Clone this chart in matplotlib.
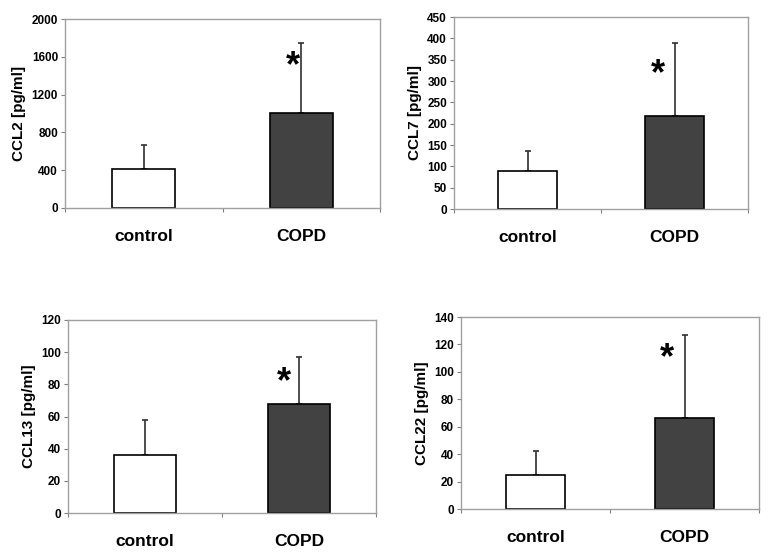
import numpy as np
import matplotlib.pyplot as plt

plt.rcParams['font.family'] = ['Liberation Sans', 'DejaVu Sans']
plt.rcParams['font.weight'] = 'bold'

groups = ['control', 'COPD']

ccl2_mean = [415, 1005]
ccl2_sd = [250, 740]
ccl7_mean = [90, 217]
ccl7_sd = [45, 173]
ccl13_mean = [36, 68]
ccl13_sd = [22, 29]
ccl22_mean = [25, 66]
ccl22_sd = [17, 61]

panels = [
    ('CCL2 [pg/ml]', ccl2_mean, ccl2_sd, 2000, 400, (0.95, 1598)),
    ('CCL7 [pg/ml]', ccl7_mean, ccl7_sd, 450, 50, (0.89, 337)),
    ('CCL13 [pg/ml]', ccl13_mean, ccl13_sd, 120, 20, (0.90, 87)),
    ('CCL22 [pg/ml]', ccl22_mean, ccl22_sd, 140, 20, (0.88, 117)),
]

# axes boxes in pixels (left, top, right, bottom)
boxes = [(65, 19, 380, 208), (454, 17, 748, 209),
         (68, 320, 376, 513), (461, 317, 759, 509)]

W, H = 774, 560
fig = plt.figure(figsize=(W / 100, H / 100), dpi=100)
fig.patch.set_facecolor('white')

for (ylab, mean, sd, ymax, step, star), (l, t, r, b) in zip(panels, boxes):
    ax = fig.add_axes([l / W, (H - b) / H, (r - l) / W, (b - t) / H])
    x = np.arange(len(groups))
    ax.bar(x, mean, width=0.4, color=['white', '#424242'],
           edgecolor='black', linewidth=1.2, zorder=2)
    ax.errorbar(x, mean, yerr=[np.zeros(len(sd)), sd], fmt='none',
                ecolor='#303030', elinewidth=1.2, capsize=2.5, capthick=1.2,
                zorder=1)
    # asterisk glyph sits high in its box, so nudge it down a bit
    ax.annotate('*', star, xytext=(0, -7), textcoords='offset points',
                fontsize=26, fontweight='bold', ha='center', va='center')
    ax.set_xlim(-0.5, 1.5)
    ax.set_ylim(0, ymax)
    ax.set_yticks(np.arange(0, ymax + step / 2, step))
    ax.set_xticks([-0.5, 0.5, 1.5])
    ax.set_xticklabels([])
    ax.set_xticks(x, minor=True)
    ax.set_xticklabels(groups, minor=True, fontsize=12.5, fontweight='bold')
    ax.tick_params(axis='x', which='minor', length=0, pad=15)
    ax.tick_params(axis='x', which='major', length=3, color='#808080')
    ax.tick_params(axis='y', length=3, color='#808080', labelsize=8.5, pad=2)
    for lab in ax.get_yticklabels():
        lab.set_fontweight('bold')
    ax.set_ylabel(ylab, fontsize=11, fontweight='bold', labelpad=4)
    for s in ax.spines.values():
        s.set_color('#a0a0a0')
        s.set_linewidth(1.0)

fig.savefig('out.png', dpi=100)
